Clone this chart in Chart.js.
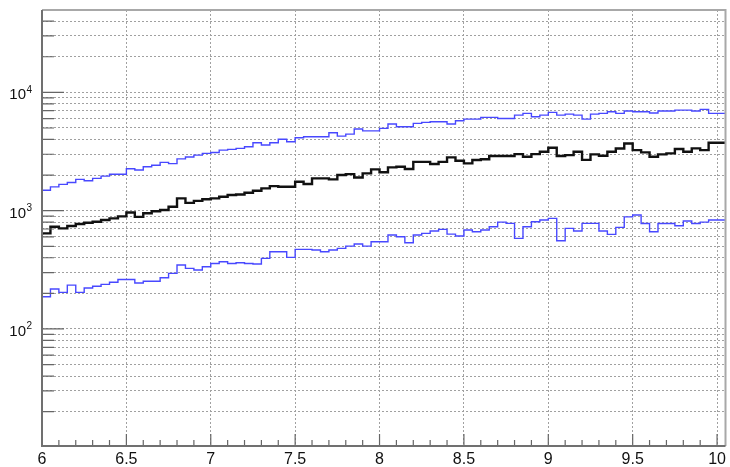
<!DOCTYPE html>
<html><head><meta charset="utf-8">
<script src="https://cdn.jsdelivr.net/npm/chart.js@4.4.0/dist/chart.umd.min.js"></script>
<style>html,body{margin:0;padding:0;background:#fff}#wrap{width:730px;height:467px}</style>
</head><body><div id="wrap"><canvas id="c" width="730" height="467"></canvas></div>
<script>
// bin edges (81 bins of width 0.05 from 6 to 10.05)
const binEdges = [6.00,6.05,6.10,6.15,6.20,6.25,6.30,6.35,6.40,6.45,6.50,6.55,6.60,6.65,6.70,6.75,6.80,6.85,6.90,6.95,
7.00,7.05,7.10,7.15,7.20,7.25,7.30,7.35,7.40,7.45,7.50,7.55,7.60,7.65,7.70,7.75,7.80,7.85,7.90,7.95,
8.00,8.05,8.10,8.15,8.20,8.25,8.30,8.35,8.40,8.45,8.50,8.55,8.60,8.65,8.70,8.75,8.80,8.85,8.90,8.95,
9.00,9.05,9.10,9.15,9.20,9.25,9.30,9.35,9.40,9.45,9.50,9.55,9.60,9.65,9.70,9.75,9.80,9.85,9.90,9.95,
10.00,10.05];

const upperBlue = [1355,1490,1590,1670,1730,1840,1790,1875,1960,2030,2030,2260,2210,2350,2420,2560,2500,2740,2840,2950,
3050,3100,3250,3300,3360,3470,3750,3590,3750,4010,3820,4130,4220,4220,4220,4560,4270,4440,4900,4730,
4730,4960,5400,5120,5120,5470,5580,5650,5650,5400,5760,5940,5940,6150,6150,6020,6020,6420,6640,6220,
6420,6780,6420,6550,6420,5940,6550,6640,6850,6640,6950,6850,6850,6700,6950,6950,7080,7080,6950,7180,
6640];

const blackMid = [622,643,731,708,741,771,790,806,833,861,895,965,887,950,990,1012,1080,1270,1165,1210,
1248,1270,1312,1355,1370,1416,1472,1542,1614,1592,1592,1754,1679,1875,1875,1840,2000,2038,1910,2066,
2233,2110,2325,2350,2250,2586,2586,2479,2586,2824,2643,2512,2680,2720,2900,2900,2900,3006,2860,3006,
3150,3400,2900,2950,3150,2690,2990,2914,3150,3350,3700,3250,3109,2856,2990,3050,3317,3150,3360,3250,
3750];

const lowerBlue = [193,187,218,204,235,204,222,230,238,248,262,262,245,253,253,271,295,347,325,315,
336,358,370,358,363,358,354,395,450,450,403,471,471,465,450,465,480,502,522,502,
546,546,622,602,535,622,643,673,695,634,610,686,664,686,731,800,781,583,731,806,
833,861,557,708,673,781,781,673,630,722,887,919,780,664,780,780,745,817,780,800,
833];

const xTickValues = [6,6.5,7,7.5,8,8.5,9,9.5,10];
const xTickLabels = ['6','6.5','7','7.5','8','8.5','9','9.5','10'];
const xMinorTicks = [6.1,6.2,6.3,6.4,6.6,6.7,6.8,6.9,7.1,7.2,7.3,7.4,7.6,7.7,7.8,7.9,8.1,8.2,8.3,8.4,8.6,8.7,8.8,8.9,9.1,9.2,9.3,9.4,9.6,9.7,9.8,9.9];
const yGridValues = [20,30,40,50,60,70,80,90,100,200,300,400,500,600,700,800,900,1000,2000,3000,4000,5000,6000,7000,8000,9000,10000,20000,30000,40000];
const yDecades = [100,1000,10000];
const yDecadeBase = ['10','10','10'];
const yDecadeExp = ['2','3','4'];

function histPoints(vals){
  return binEdges.map((x,i)=>({x:x, y: vals[Math.min(i, vals.length-1)]}));
}

const frameTicks = {
  id:'frameTicks',
  afterDraw(chart){
    const ctx = chart.ctx, a = chart.chartArea, xs = chart.scales.x, ys = chart.scales.y;
    ctx.save();
    ctx.strokeStyle = '#666'; ctx.lineWidth = 1.2;
    ctx.beginPath();
    yGridValues.forEach(v=>{
      const y = ys.getPixelForValue(v);
      const len = yDecades.includes(v) ? 22 : 12;
      ctx.moveTo(a.left, y); ctx.lineTo(a.left+len, y);
    });
    xTickValues.forEach(v=>{
      const x = xs.getPixelForValue(v);
      ctx.moveTo(x, a.bottom); ctx.lineTo(x, a.bottom-12);
    });
    xMinorTicks.forEach(v=>{
      const x = xs.getPixelForValue(v);
      ctx.moveTo(x, a.bottom); ctx.lineTo(x, a.bottom-6);
    });
    ctx.stroke();
    ctx.strokeStyle = '#a8a8a8'; ctx.lineWidth = 2;
    ctx.beginPath();
    ctx.moveTo(a.left, a.top); ctx.lineTo(a.right, a.top); ctx.lineTo(a.right, a.bottom);
    ctx.stroke();
    ctx.strokeStyle = '#707070'; ctx.lineWidth = 2;
    ctx.beginPath();
    ctx.moveTo(a.left, a.top); ctx.lineTo(a.left, a.bottom); ctx.lineTo(a.right, a.bottom);
    ctx.stroke();
    // y decade labels with superscript exponents
    ctx.fillStyle = '#111';
    ctx.textBaseline = 'alphabetic';
    yDecades.forEach((v,i)=>{
      const y = ys.getPixelForValue(v);
      ctx.font = '15px "Liberation Sans", Arial, sans-serif';
      ctx.textAlign = 'right';
      ctx.fillText(yDecadeBase[i], 26, y + 7);
      ctx.font = '10px "Liberation Sans", Arial, sans-serif';
      ctx.textAlign = 'left';
      ctx.fillText(yDecadeExp[i], 26.5, y + 0.5);
    });
    ctx.restore();
  }
};

new Chart(document.getElementById('c'), {
  type:'line',
  data:{ datasets:[
    {label:'upper', data:histPoints(upperBlue), borderColor:'#4848ff', borderWidth:1.4, stepped:'after', pointRadius:0, fill:false},
    {label:'middle', data:histPoints(blackMid), borderColor:'#111111', borderWidth:2.4, stepped:'after', pointRadius:0, fill:false},
    {label:'lower', data:histPoints(lowerBlue), borderColor:'#4848ff', borderWidth:1.4, stepped:'after', pointRadius:0, fill:false}
  ]},
  options:{
    responsive:false, animation:false, devicePixelRatio:1,
    layout:{padding:{top:10,right:3,left:0,bottom:0}},
    plugins:{legend:{display:false}, tooltip:{enabled:false}},
    scales:{
      x:{type:'linear', min:6, max:10.05,
        afterBuildTicks:s=>{ s.ticks = xTickValues.map(v=>({value:v})); },
        afterFit:s=>{ s.height = 21; },
        ticks:{autoSkip:false, maxRotation:0, color:'#111', padding:4,
          font:{family:'Liberation Sans', size:16},
          callback:(v,i)=>xTickLabels[i]},
        grid:{color:'#a0a0a0', lineWidth:1, drawTicks:false},
        border:{display:false, dash:[2,2]}
      },
      y:{type:'logarithmic', min:10.25, max:49700,
        afterBuildTicks:s=>{ s.ticks = yGridValues.map(v=>({value:v})); },
        afterFit:s=>{ s.width = 42; },
        ticks:{display:false, autoSkip:false},
        grid:{color:'#a0a0a0', lineWidth:1, drawTicks:false},
        border:{display:false, dash:[2,2]}
      }
    }
  },
  plugins:[frameTicks]
});
</script></body></html>
